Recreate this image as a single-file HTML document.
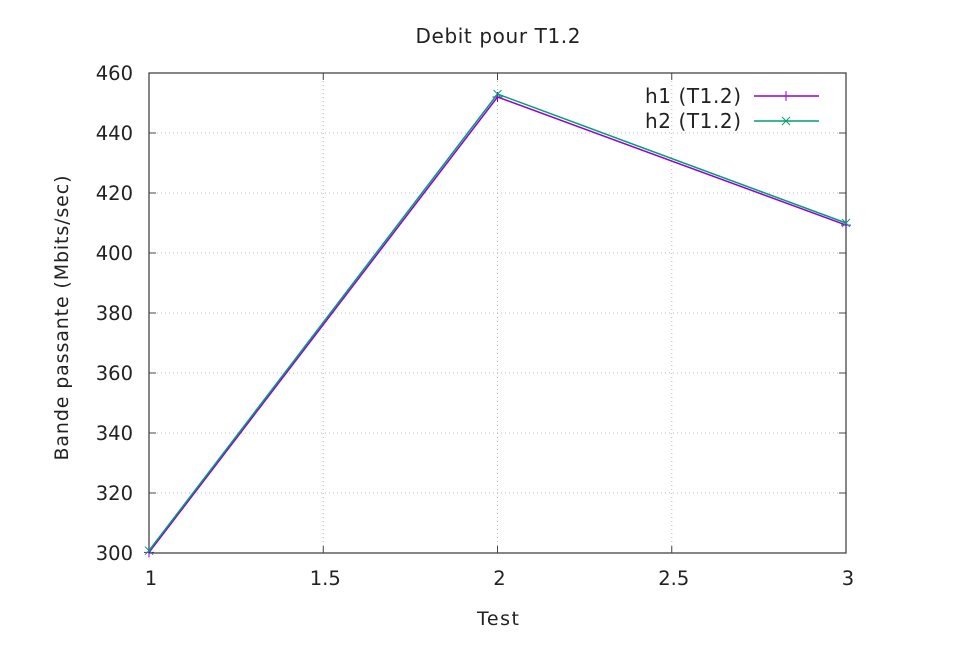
<!DOCTYPE html>
<html><head><meta charset="utf-8"><style>
body{margin:0;background:#fff;}
svg text{font-family:"DejaVu Sans","Liberation Sans",sans-serif;fill:#222;}
</style></head><body>
<svg id="chart" width="973" height="655">
<text x="498" y="43" text-anchor="middle" font-size="20" textLength="165">Debit pour T1.2</text>
<text x="498" y="625" text-anchor="middle" font-size="19" textLength="42">Test</text>
<text transform="translate(68,318) rotate(-90)" text-anchor="middle" font-size="19" textLength="285">Bande passante (Mbits/sec)</text>
<g id="grid"></g><g id="axes"></g><g id="series"></g><g id="legend"></g>
</svg>
<script>
const xTicks=[1,1.5,2,2.5,3];
const yTicks=[300,320,340,360,380,400,420,440,460];
const tests=[1,2,3];
const h1=[300.2,452,409.3];
const h2=[300.8,453,410];
const seriesNames=["h1 (T1.2)","h2 (T1.2)"];
const L=149,R=846,T=73,B=553;
const X=v=>L+(v-1)/(3-1)*(R-L);
const Y=v=>B-(v-300)/(460-300)*(B-T);
const NS="http://www.w3.org/2000/svg";
function mk(tag,attrs,parent){const e=document.createElementNS(NS,tag);for(const k in attrs)e.setAttribute(k,attrs[k]);parent.appendChild(e);return e;}
const grid=document.getElementById('grid'),axes=document.getElementById('axes'),ser=document.getElementById('series'),leg=document.getElementById('legend');
xTicks.forEach(t=>{const x=X(t);
 const g=mk('line',{x1:x,x2:x,y1:T,y2:B,stroke:'#bbb','stroke-dasharray':'1,3','stroke-width':1},grid);
 
 
 mk('line',{x1:x,x2:x,y1:B,y2:B-7,stroke:'#444'},axes);mk('line',{x1:x,x2:x,y1:T,y2:T+7,stroke:'#444'},axes);
 const tx=mk('text',{x:x+2,y:B+32,'text-anchor':'middle','font-size':19.5},axes);tx.textContent=t;
 
 });
yTicks.forEach(t=>{const y=Y(t);
 const g=mk('line',{x1:L,x2:R,y1:y,y2:y,stroke:'#bbb','stroke-dasharray':'1,3','stroke-width':1},grid);
 
 
 mk('line',{x1:L,x2:L+7,y1:y,y2:y,stroke:'#444'},axes);mk('line',{x1:R,x2:R-7,y1:y,y2:y,stroke:'#444'},axes);
 const tx=mk('text',{x:L-16,y:y+7,'text-anchor':'end','font-size':19.5},axes);tx.textContent=t;
 
 });
const fr=mk('rect',{x:L,y:T,width:R-L,height:B-T,fill:'none',stroke:'#444','stroke-width':1.3},axes);


const colors=['#9400d3','#009e73'];
function marker(type,x,y,c,p){if(type===0){mk('line',{x1:x-5,x2:x+5,y1:y,y2:y,stroke:c},p);mk('line',{x1:x,x2:x,y1:y-5,y2:y+5,stroke:c},p);}
 else{mk('line',{x1:x-4,x2:x+4,y1:y-4,y2:y+4,stroke:c},p);mk('line',{x1:x-4,x2:x+4,y1:y+4,y2:y-4,stroke:c},p);}}
[h1,h2].forEach((d,i)=>{
 const pl=mk('polyline',{points:d.map((v,j)=>X(tests[j])+','+Y(v)).join(' '),fill:'none',stroke:colors[i],'stroke-width':1.5},ser);
 
 
 d.forEach((v,j)=>marker(i,X(tests[j]),Y(v),colors[i],ser));
 const ly=96+i*25;
 const lt=mk('text',{x:741,y:ly+7,'text-anchor':'end','font-size':20,textLength:96},leg);lt.textContent=seriesNames[i];
 
 
 mk('line',{x1:754,x2:819,y1:ly,y2:ly,stroke:colors[i],'stroke-width':1.5},leg);
 marker(i,786,ly,colors[i],leg);
});
</script>
</body></html>
